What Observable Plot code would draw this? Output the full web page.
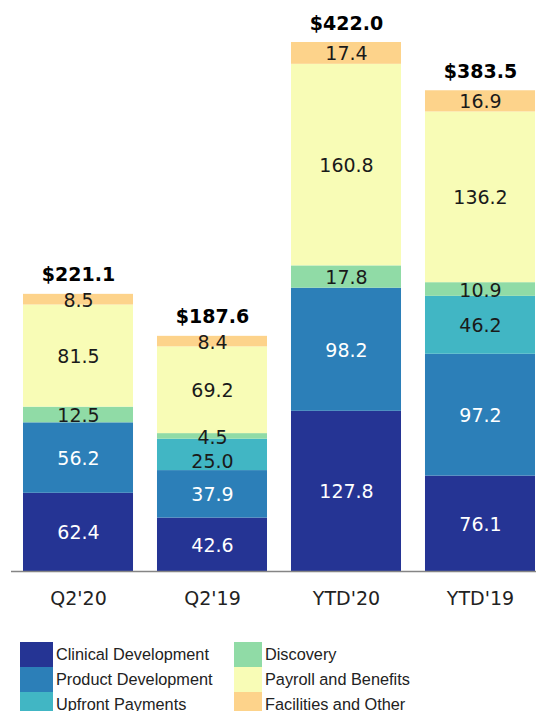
<!DOCTYPE html>
<html>
<head>
<meta charset="utf-8">
<script src="https://cdn.jsdelivr.net/npm/d3@7"></script>
<script src="https://cdn.jsdelivr.net/npm/@observablehq/plot@0.6"></script>
<style>
  html, body { margin: 0; padding: 0; background: #fff; overflow: hidden; }
  #wrap { position: relative; width: 536px; height: 711px; }
  #legend { position: absolute; left: 0; top: 642px; width: 536px; font-family: "Liberation Sans", Arial, sans-serif; font-size: 16.3px; color: #222; }
  .item { position: absolute; height: 25px; display: flex; align-items: center; }
  .sw { height: 25px; margin-right: 3px; flex: none; }
</style>
</head>
<body>
<div id="wrap"><div id="chart"></div><div id="legend"></div></div>
<script>
const categories = ["Q2'20", "Q2'19", "YTD'20", "YTD'19"];
const series = ["Clinical Development", "Product Development", "Upfront Payments", "Discovery", "Payroll and Benefits", "Facilities and Other"];
const colors = ["#253494", "#2c7fb8", "#41b6c4", "#90dba6", "#f8fcb6", "#fdd38b"];
const clinical   = [62.4, 42.6, 127.8, 76.1];
const product    = [56.2, 37.9, 98.2, 97.2];
const upfront    = [0, 25.0, 0, 46.2];
const discovery  = [12.5, 4.5, 17.8, 10.9];
const payroll    = [81.5, 69.2, 160.8, 136.2];
const facilities = [8.5, 8.4, 17.4, 16.9];
const totals     = [221.1, 187.6, 422.0, 383.5];

const seriesValues = [clinical, product, upfront, discovery, payroll, facilities];
const rows = [];
series.forEach((s, si) => {
  categories.forEach((c, ci) => {
    const v = seriesValues[si][ci];
    if (v > 0) rows.push({cat: c, series: s, value: v, light: si < 2});
  });
});
const totalRows = categories.map((c, i) => ({cat: c, total: totals[i]}));
// label pushed down slightly in the reference to clear the small segment above it
const nudged = d => d.cat === "Q2'19" && d.series === "Upfront Payments";
const fmt = d => d.value.toFixed(1);

const chart = Plot.plot({
  width: 536,
  height: 625,
  marginLeft: 11,
  marginRight: 0,
  marginTop: 42,
  marginBottom: 54,
  style: {fontFamily: "DejaVu Sans, sans-serif", background: "#fff"},
  x: {domain: categories, round: false, paddingInner: 0.179, paddingOuter: 0.0485, align: 0.923, label: null, tickSize: 0, tickPadding: 20},
  y: {domain: [0, 422], axis: null},
  color: {domain: series, range: colors},
  marks: [
    Plot.barY(rows, {x: "cat", y: "value", z: "series", fill: "series", order: series}),
    Plot.ruleY([0], {stroke: "#858585", strokeWidth: 1.6}),
    Plot.text(rows, Plot.stackY({x: "cat", y: "value", z: "series", order: series,
      text: d => nudged(d) ? "" : fmt(d),
      fill: d => d.light ? "#ffffff" : "#1a1a1a",
      fontSize: 19, dy: 1})),
    Plot.text(rows, Plot.stackY({x: "cat", y: "value", z: "series", order: series,
      text: d => nudged(d) ? fmt(d) : "",
      fill: "#1a1a1a",
      fontSize: 19, dy: 7})),
    Plot.text(totalRows, {x: "cat", y: "total", text: d => "$" + d.total.toFixed(1),
      fontWeight: "bold", fontSize: 19, dy: -19, fill: "#000"}),
    Plot.axisX({tickSize: 0, tickPadding: 20, fontSize: 19, label: null, color: "#222"})
  ]
});
document.getElementById("chart").appendChild(chart);

const legend = document.getElementById("legend");
const colX = [20, 234];
const swW = [33, 28];
series.forEach((s, i) => {
  const col = Math.floor(i / 3), row = i % 3;
  const item = document.createElement("div");
  item.className = "item";
  item.style.left = colX[col] + "px";
  item.style.top = (row * 25) + "px";
  const sw = document.createElement("div");
  sw.className = "sw";
  sw.style.width = swW[col] + "px";
  sw.style.background = colors[i];
  const lab = document.createElement("span");
  lab.textContent = s;
  item.appendChild(sw);
  item.appendChild(lab);
  legend.appendChild(item);
});
</script>
</body>
</html>
